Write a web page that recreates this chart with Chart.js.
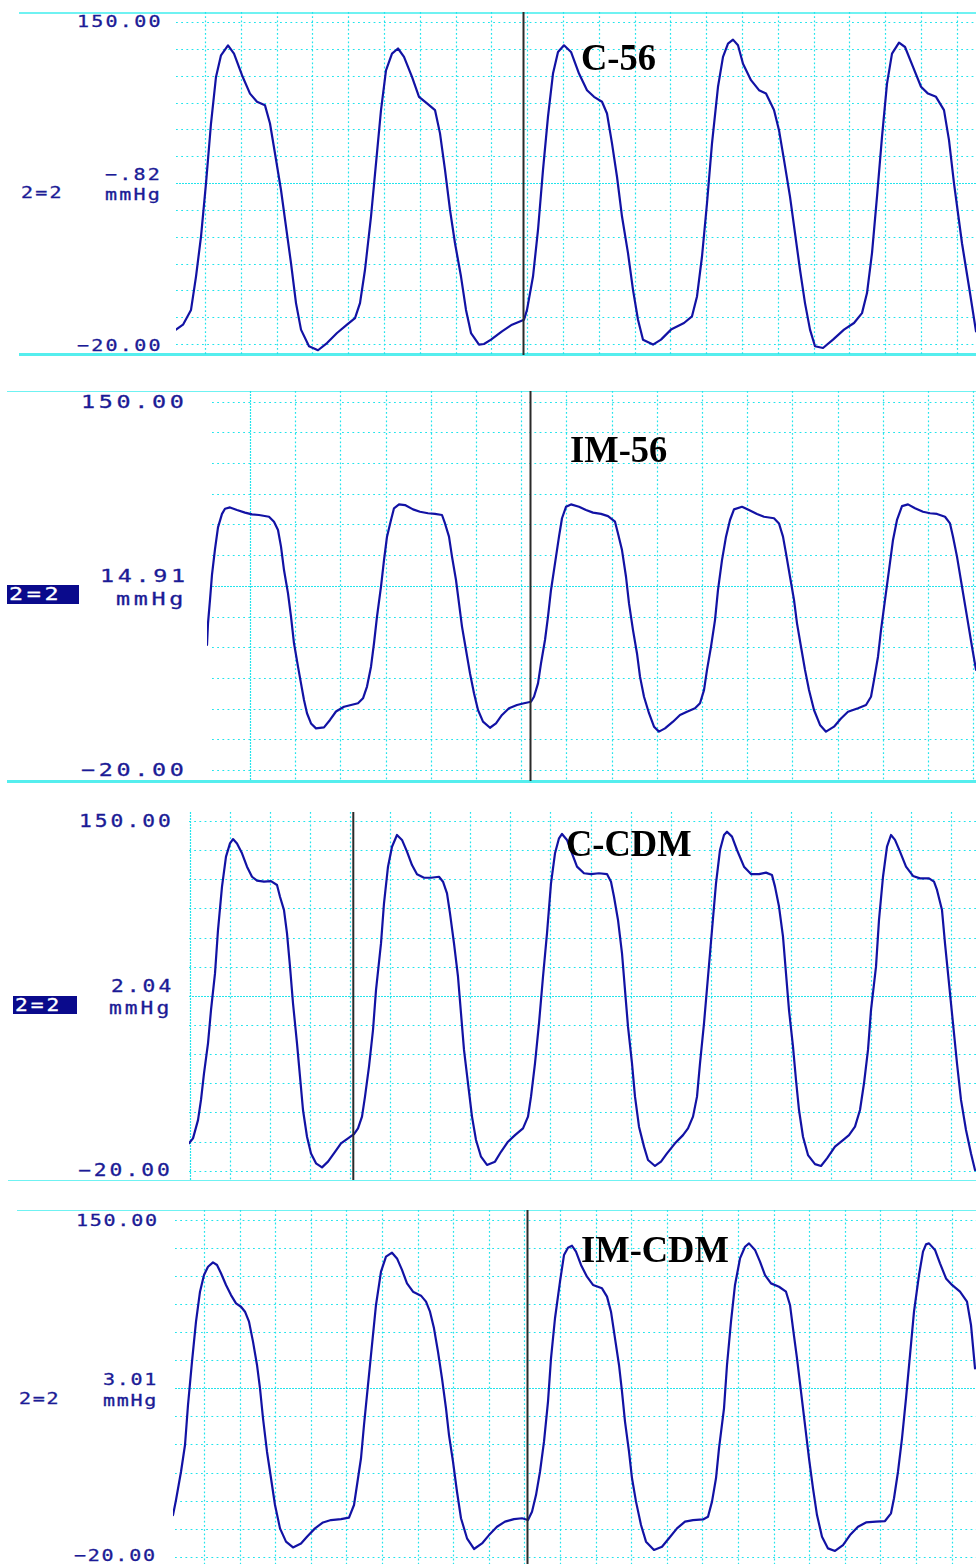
<!DOCTYPE html>
<html><head><meta charset="utf-8">
<script src="https://cdn.jsdelivr.net/npm/chart.js@4.4.1/dist/chart.umd.min.js"></script>
<style>
html,body{margin:0;padding:0;background:#fff;}
body{width:976px;height:1564px;overflow:hidden;position:relative;}
.lbl{position:absolute;font-family:'DejaVu Sans Mono',monospace;color:#1b1b96;white-space:pre;line-height:1;transform-origin:0 0;-webkit-text-stroke:0.3px currentColor;}
.title{position:absolute;font-family:'Liberation Serif','Times New Roman',serif;font-weight:bold;color:#000;line-height:1;white-space:pre;transform-origin:0 0;}
.box{position:absolute;background:#0a0a8c;}
.rule{position:absolute;}
</style></head><body>
<script>
// ---------------- data ----------------
const panelNames = ['C-56', 'IM-56', 'C-CDM', 'IM-CDM'];
const yTickLabels = ['150.00', '\u221220.00'];
const cursorReadings = ['\u2212.82', '14.91', '2.04', '3.01'];
const unitLabel = 'mmHg';
const channelLabel = '2=2';
const yMax = 150, yMin = -20, yDivisions = 12;
const windowMs = [800, 769, 787, 803];
const cursorTimes = [347.5, 323.5, 164.3, 354.5];

const c56Time = [
  0,7,15,20,25,30,35,40,45,52,
  58,66,74,81,89,94,99,105,110,115,
  120,125,133,142,151,161,171,179,184,189,
  195,200,205,210,216,222,228,236,243,251,
  259,264,269,274,279,285,290,295,303,308,
  315,326,336,348,351,357,362,367,372,377,
  382,388,395,403,411,418,426,431,436,441,
  446,452,457,462,467,477,485,495,508,516,
  521,526,531,536,542,547,552,557,562,567,
  575,583,590,598,603,608,614,619,624,629,
  634,639,647,657,668,678,686,691,696,701,
  706,711,716,723,729,737,745,752,760,768,
  773,778,786,794,800];
const c56Pressure = [
  -12.4,-9.8,-2,15.6,36.7,64.8,96.4,121,132.4,137.7,
  133.3,121.9,112.2,107.9,106,96.4,80.6,61.3,42,22.7,
  1.6,-12.4,-21.2,-23.3,-19.5,-14.2,-9.8,-6.3,1.6,19.2,
  47.3,75.4,103.5,124.5,133.3,136,131.6,121,110.5,107,
  103.5,91.2,71.9,50.8,33.2,15.6,-2,-14.2,-20.3,-20,
  -17.7,-13.3,-9.8,-7.2,-2,15.6,40.2,71.9,100,122.8,
  134.2,137.7,134.2,122.8,114,110.5,107.9,101.7,85.9,68.3,
  47.3,28,8.6,-7.2,-17.7,-20.3,-17.7,-12.4,-8.9,-5.4,
  5.1,26.2,54.3,85.9,115.8,131.6,138.6,140.7,137.7,128,
  119.3,114,112.2,103.5,92.9,77.2,57.8,38.5,19.2,1.6,
  -12.4,-21.2,-22.1,-17.7,-12.4,-8.9,-3.7,6.9,28,57.8,
  89.4,117.5,133.3,139.1,136.8,126.3,115.8,112.2,110.5,103.5,
  87.6,64.8,33.2,6.9,-13.3];

const im56Time = [
  0,1,3,5,8,11,15,18,23,30,
  38,45,52,62,67,71,74,77,81,84,
  87,91,94,97,100,104,109,117,123,129,
  137,144,151,156,160,164,167,170,174,177,
  180,184,187,192,198,206,213,221,228,235,
  238,242,245,249,252,255,259,263,267,271,
  276,283,289,295,302,310,317,324,327,331,
  334,338,341,344,348,352,355,359,364,372,
  379,386,394,401,408,411,415,419,422,426,
  430,433,437,442,447,452,458,466,473,480,
  488,493,497,500,504,508,511,515,519,523,
  527,535,542,550,557,567,572,576,579,583,
  587,590,594,598,602,607,613,619,627,634,
  641,651,659,664,667,671,674,678,682,686,
  690,695,701,708,716,723,730,738,743,746,
  750,755,760,765,769];
const im56Pressure = [
  37.7,47.7,58.5,70.2,82,92,98.2,100.6,101.2,100,
  98.8,98,97.7,96.9,94.6,90.8,83.1,72.3,61.5,50.8,
  38.5,27.7,20,12.3,6.2,1.5,-0.8,-0.3,3.1,7,
  9.2,10,10.8,13.1,18.5,27.7,38.5,50.8,64.6,76.9,
  87.7,95.4,100.8,102.6,102.3,100.3,99.2,98.5,98.2,97.7,
  93.8,87.7,78.5,67.7,56.9,46.2,35.4,24.6,15.4,7.7,
  2.3,-0.5,1.5,5.4,8.5,10,10.8,11.5,13.8,20,
  29.2,40,50.8,63.1,75.4,87.7,96.2,101.5,102.6,101.5,
  100,98.8,98.2,97.2,94.6,89.2,81.5,69.2,56.9,44.6,
  33.8,23.1,13.8,6.2,0,-2.3,-0.8,2.3,5.4,6.9,
  8.5,10.8,16.9,26.2,36.9,49.2,63.1,76.9,87.7,95.4,
  100.3,101.5,100,98.2,96.9,96.2,93.8,87.7,80,69.2,
  58.5,47.7,36.9,26.2,16.9,7.7,0.8,-2.3,0,3.8,
  6.9,8.5,10,13.8,21.5,32.3,44.6,58.5,72.3,86.2,
  95.4,101.8,102.6,100.8,99.2,98.5,98.2,96.9,93.8,87.7,
  78.5,64.6,50.8,36.9,26.2];

const cCdmTime = [
  0,4,9,12,15,19,22,26,29,33,
  37,41,44,48,53,58,63,68,75,82,
  88,91,95,98,101,104,108,111,114,118,
  122,127,133,139,146,152,159,165,169,173,
  176,180,184,187,192,195,199,203,208,213,
  218,223,228,235,242,250,254,258,261,265,
  269,272,275,279,283,287,292,298,306,312,
  319,326,334,339,342,346,350,354,358,362,
  366,370,373,378,383,388,395,402,410,418,
  422,425,429,433,436,439,443,446,450,455,
  459,466,472,478,486,494,499,504,508,511,
  515,519,523,527,531,535,538,543,548,555,
  562,570,577,583,586,590,594,597,600,604,
  607,610,614,619,626,632,638,646,654,660,
  666,671,675,679,682,687,690,694,698,702,
  706,711,717,724,731,740,745,748,753,756,
  760,764,768,772,777,782,786];
const cCdmPressure = [
  -6.7,-4.3,4.6,14.4,27.3,41.9,58.1,75.9,97,118.1,
  132.7,139.1,141.2,139.1,134.3,127.8,122.9,121,120.5,120.8,
  118.9,113.2,106.7,95.4,79.2,61.4,41.9,25.7,9.5,-3.5,
  -11.6,-16.4,-18.4,-15.6,-10.8,-6.7,-4.3,-2.2,0.6,6.3,
  16,30.6,48.4,67.8,90.5,110,127.8,137.5,143.2,140.8,
  135.1,128.6,124.1,122.4,122.4,122.9,120.5,114.8,105.1,90.5,
  74.3,56.5,38.7,22.5,6.3,-5.1,-13.2,-17.2,-15.6,-10.8,
  -5.9,-2.7,0.6,6.3,16,32.2,51.6,74.3,95.4,119.7,
  134.3,141.6,143.7,140.8,134.3,127.8,124.6,124.2,124.6,124.2,
  120.5,113.2,101.9,85.7,67.8,50,32.2,16,1.4,-8.3,
  -14.8,-17.7,-15.6,-11.6,-6.7,-2.7,0.6,6.3,16,32.2,
  51.6,74.3,97,119.7,135.9,143.2,144.8,142.4,135.9,127.8,
  124.2,124.2,124.9,123.7,118.1,108.4,93.8,75.9,58.1,40.3,
  24.1,9.5,-3.5,-12.4,-16.8,-17.7,-14,-8.3,-5.1,-2.7,
  1.4,9.5,22.5,38.7,58.1,79.2,101.9,122.9,137.5,143.2,
  140.8,135.1,127.8,123.3,122.1,122.1,120.5,116.5,106.7,90.5,
  71.1,51.6,32.2,14.4,-0.2,-11.6,-19.7];

const imCdmTime = [
  0,3,8,12,15,19,23,27,31,35,
  40,44,48,53,58,63,68,72,76,80,
  84,87,90,94,98,102,107,113,120,128,
  134,142,150,158,168,176,181,184,188,191,
  195,199,203,208,213,219,224,229,234,240,
  248,253,257,261,265,269,273,276,280,284,
  288,294,301,309,316,324,332,341,349,355,
  359,363,367,371,375,378,382,387,391,395,
  399,403,408,414,420,429,434,438,442,446,
  449,452,456,459,463,468,473,481,489,496,
  504,512,520,530,535,539,543,546,551,554,
  558,562,567,572,576,582,587,592,598,606,
  613,617,620,624,628,632,636,640,644,649,
  655,662,670,677,685,693,703,712,718,721,
  725,729,733,737,741,746,750,753,756,762,
  767,773,779,787,794,798,802];
const imCdmPressure = [
  1,8.6,22.9,36.4,56.6,78.5,98.7,113.8,122.2,126.4,
  128.6,127.3,123.1,117.2,112.1,107.9,106.2,103.7,98.7,88.6,
  76.8,65,49.9,33,19.6,6.1,-5.7,-12.4,-15.3,-13.3,
  -9.9,-5.7,-2.7,-1.5,-1,-0.3,6.1,16.2,29.7,46.5,
  66.7,86.9,107.1,123.9,131.5,133.5,130.6,124.8,118,113.8,
  111.8,108.8,103.7,95.3,83.5,70,54.9,41.4,28,12.8,
  -0.6,-10.7,-16.1,-13.3,-9.1,-4.9,-2.3,-1,-0.6,-1.5,
  2.7,11.1,22.9,38.1,58.3,80.1,100.4,118.9,132.3,136,
  137,134,127.3,121.4,117.2,115.5,111.3,103.7,90.2,76.8,
  63.3,48.2,33,19.6,7.8,-4,-12.4,-16.6,-15,-10.7,
  -5.7,-2.3,-1.5,-1.2,0.2,7.8,19.6,34.7,54.9,76.8,
  98.7,117.2,130.6,136.5,138.2,134.9,129,122.2,118,116.3,
  113.8,107.1,95.3,80.1,63.3,46.5,29.7,14.5,1,-9.9,
  -15.8,-17.1,-14.1,-9.1,-4.9,-2.7,-2.3,-2,1.9,9.5,
  22.9,39.7,59.9,81.8,103.7,122.2,134,137.7,138.2,134.9,
  128.1,120.5,117.2,113.8,108.8,97,75.1];

const seriesTime = [c56Time, im56Time, cCdmTime, imCdmTime];
const seriesPressure = [c56Pressure, im56Pressure, cCdmPressure, imCdmPressure];
const highlightedChannel = [false, true, true, false];

// ---------------- layout / style ----------------
const lineColor = '#1212a4';
const gridColor = '#22e4ec';
const layouts = [
  { box:{left:176, top:12, width:800, height:343},
    grid:{top:10, bottom:332, hStart:0, vStart:29, vStep:35.8, denseV:[]},
    font:{size:16, sx:1.25, ls:1.8},
    pos:{top:[77,16], mid:[105,168.5], unit:[105,189], ch:[21,187], bottom:[77,340]},
    title:[581,45],
    rules:[[19,12,957,1.5],[19,353,957,3]] },
  { box:{left:207, top:391, width:769, height:390},
    grid:{top:10.7, bottom:379, hStart:5, vStart:43, vStep:45.2, denseV:[0]},
    font:{size:18, sx:1.3, ls:2.8},
    pos:{top:[81,395], mid:[100,569], unit:[116,592], ch:[9,587.5], bottom:[81,763.5]},
    chBox:[7,585,72,19],
    title:[570,437],
    rules:[[7,390.5,969,1.2],[7,779.5,969,3]] },
  { box:{left:189, top:812, width:787, height:368},
    grid:{top:9, bottom:358.7, hStart:0, vStart:0.5, vStep:40.1, denseV:[0]},
    font:{size:17, sx:1.25, ls:2.4},
    pos:{top:[79,815], mid:[111,980], unit:[109,1002], ch:[15,998.5], bottom:[78,1164]},
    chBox:[13,996,64,18],
    title:[566,831],
    rules:[[8,1179.5,968,1.5]] },
  { box:{left:173, top:1210, width:803, height:354},
    grid:{top:10, bottom:346.7, hStart:2, vStart:31, vStep:35.6, denseV:[]},
    font:{size:16, sx:1.25, ls:1.4},
    pos:{top:[76,1215], mid:[103,1374], unit:[103,1394.5], ch:[18.5,1393], bottom:[74,1550]},
    title:[581,1237],
    rules:[[17,1209.5,959,1.5]] }
];

// ---------------- plugin: scope grid + cursor ----------------
const scopeGrid = {
  id: 'scopeGrid',
  beforeDatasetsDraw(chart, args, o) {
    const {ctx, chartArea: a, scales: {x, y}} = chart;
    ctx.save();
    ctx.lineWidth = 1.2;
    ctx.strokeStyle = gridColor;
    for (let k = 0; k <= yDivisions; k++) {
      const v = yMin + k * (yMax - yMin) / yDivisions;
      const py = Math.round(y.getPixelForValue(v)) + 0.5;
      ctx.setLineDash(k === yDivisions / 2 ? [2, 1] : [1.8, 3.4]);
      ctx.beginPath(); ctx.moveTo(a.left + o.hStart, py); ctx.lineTo(a.right, py); ctx.stroke();
    }
    let i = 0;
    for (let t = o.vStart; t <= x.max; t += o.vStep, i++) {
      const px = Math.round(x.getPixelForValue(t)) + 0.5;
      ctx.setLineDash(o.denseV.includes(i) ? [2, 1] : [1.8, 2.4]);
      ctx.beginPath(); ctx.moveTo(px, a.top); ctx.lineTo(px, a.bottom); ctx.stroke();
    }
    ctx.restore();
  },
  afterDatasetsDraw(chart, args, o) {
    const {ctx, chartArea: a, scales: {x}} = chart;
    const px = x.getPixelForValue(o.cursor);
    ctx.save();
    ctx.strokeStyle = '#2a2a2a';
    ctx.lineWidth = 2;
    ctx.beginPath(); ctx.moveTo(px, a.top); ctx.lineTo(px, a.bottom); ctx.stroke();
    ctx.restore();
  }
};

function addLabel(text, xy, f, color) {
  const d = document.createElement('div');
  d.className = 'lbl';
  d.textContent = text;
  d.style.fontSize = f.size + 'px';
  d.style.letterSpacing = f.ls + 'px';
  d.style.left = xy[0] + 'px';
  d.style.top = (xy[1] - 0.117 * f.size) + 'px';
  d.style.transform = 'scaleX(' + f.sx + ')';
  if (color) d.style.color = color;
  document.body.appendChild(d);
}

layouts.forEach((L, i) => {
  L.rules.forEach(r => {
    const d = document.createElement('div');
    d.className = 'rule';
    d.style.cssText = `left:${r[0]}px;top:${r[1]}px;width:${r[2]}px;height:${r[3]}px;background:${r[3] > 2 ? '#55eeee' : '#6ff2f2'}`;
    document.body.appendChild(d);
  });

  const cv = document.createElement('canvas');
  cv.width = L.box.width; cv.height = L.box.height;
  cv.style.cssText = `position:absolute;left:${L.box.left}px;top:${L.box.top}px;width:${L.box.width}px;height:${L.box.height}px`;
  document.body.appendChild(cv);

  const pxPerUnit = (L.grid.bottom - L.grid.top) / (yMax - yMin);
  const axisMax = yMax + L.grid.top / pxPerUnit;
  const axisMin = yMin - (L.box.height - L.grid.bottom) / pxPerUnit;
  const times = seriesTime[i], pres = seriesPressure[i];

  new Chart(cv, {
    type: 'line',
    data: { datasets: [{
      data: times.map((t, k) => ({x: t, y: pres[k]})),
      borderColor: lineColor, borderWidth: 2.2, pointRadius: 0, tension: 0,
      fill: false, borderJoinStyle: 'round', borderCapStyle: 'round'
    }]},
    options: {
      responsive: false, animation: false, devicePixelRatio: 1, events: [],
      layout: { padding: 0 },
      plugins: { legend: {display: false}, tooltip: {enabled: false},
        scopeGrid: Object.assign({}, L.grid, {cursor: cursorTimes[i]}) },
      scales: {
        x: { type: 'linear', min: 0, max: windowMs[i], display: false },
        y: { type: 'linear', min: axisMin, max: axisMax, display: false }
      }
    },
    plugins: [scopeGrid]
  });

  addLabel(yTickLabels[0], L.pos.top, L.font);
  addLabel(yTickLabels[1], L.pos.bottom, L.font);
  addLabel(cursorReadings[i], L.pos.mid, L.font);
  addLabel(unitLabel, L.pos.unit, L.font);
  if (highlightedChannel[i]) {
    const b = document.createElement('div');
    b.className = 'box';
    b.style.cssText = `left:${L.chBox[0]}px;top:${L.chBox[1]}px;width:${L.chBox[2]}px;height:${L.chBox[3]}px`;
    document.body.appendChild(b);
    addLabel(channelLabel, L.pos.ch, L.font, '#ffffff');
  } else {
    addLabel(channelLabel, L.pos.ch, L.font);
  }
  const t = document.createElement('div');
  t.className = 'title';
  t.textContent = panelNames[i];
  t.style.fontSize = '38px';
  t.style.left = L.title[0] + 'px';
  t.style.top = (L.title[1] - 6.7) + 'px';
  t.style.transform = 'scaleX(0.96)';
  document.body.appendChild(t);
});
</script>
</body></html>
